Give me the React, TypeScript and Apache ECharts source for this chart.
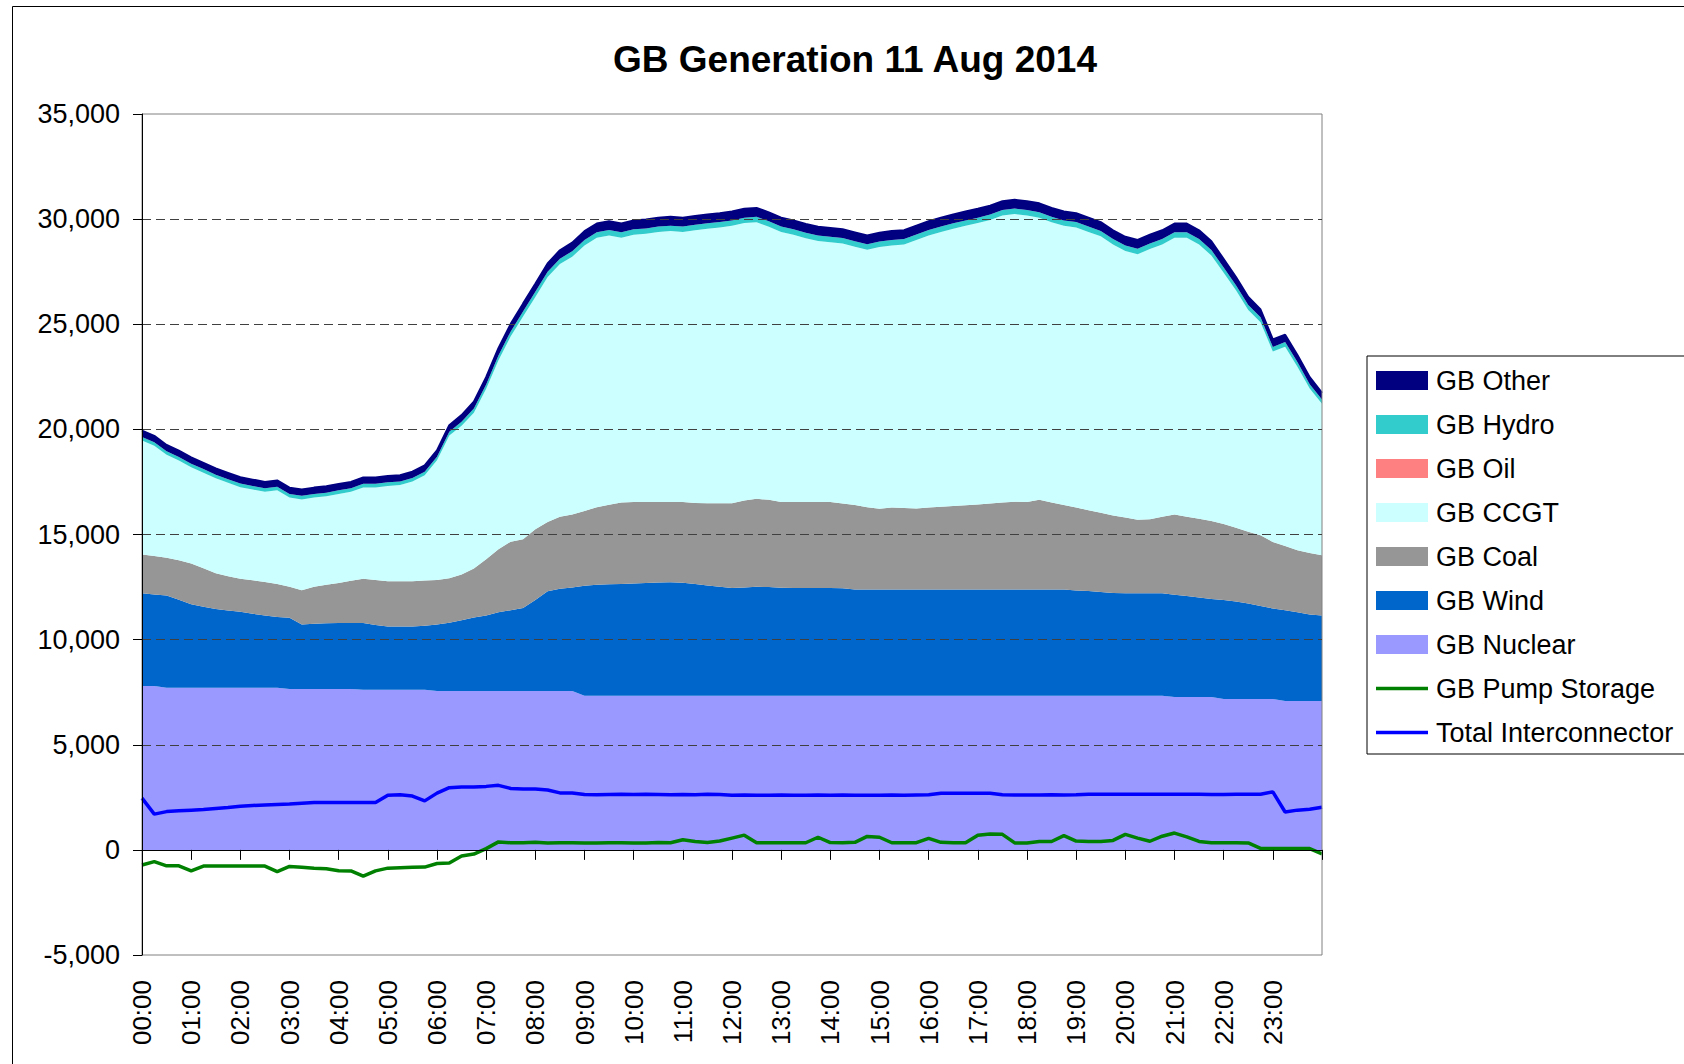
import React, { useEffect, useRef } from 'react';
import * as echarts from 'echarts';

// 15-minute grid from 00:00 to 24:00 (97 category positions)
const times: string[] = Array.from({ length: 97 }, (_, i) => {
  const h = Math.floor(i / 4);
  const m = (i % 4) * 15;
  return `${String(h).padStart(2, '0')}:${String(m).padStart(2, '0')}`;
});

const yTicks = { min: -5000, max: 35000, step: 5000 };

const nuclear = [
  7800, 7800, 7710, 7710, 7710, 7710, 7710, 7710, 7710, 7710, 7710, 7710,
  7650, 7650, 7650, 7650, 7650, 7650, 7610, 7610, 7610, 7610, 7610, 7610,
  7560, 7560, 7560, 7560, 7560, 7560, 7560, 7560, 7560, 7560, 7560, 7560,
  7330, 7330, 7330, 7330, 7330, 7330, 7330, 7330, 7330, 7330, 7330, 7330,
  7330, 7330, 7330, 7330, 7330, 7330, 7330, 7330, 7330, 7330, 7330, 7330,
  7330, 7330, 7330, 7330, 7330, 7330, 7330, 7330, 7330, 7330, 7330, 7330,
  7330, 7330, 7330, 7330, 7330, 7330, 7330, 7330, 7330, 7330, 7330, 7330,
  7270, 7270, 7270, 7270, 7180, 7180, 7180, 7180, 7180, 7080, 7080, 7080,
  7080,
];

const wind = [
  4400, 4350, 4390, 4190, 3970, 3850, 3750, 3680, 3610, 3520, 3440, 3370,
  3390, 3070, 3110, 3130, 3140, 3140, 3180, 3090, 3010, 3010, 3010, 3050,
  3160, 3240, 3360, 3490, 3590, 3740, 3840, 3940, 4320, 4740, 4860, 4920,
  5230, 5280, 5300, 5310, 5340, 5360, 5390, 5400, 5370, 5310, 5250, 5190,
  5130, 5150, 5180, 5170, 5140, 5130, 5130, 5130, 5130, 5110, 5050, 5050,
  5050, 5050, 5050, 5050, 5050, 5050, 5050, 5050, 5050, 5050, 5050, 5050,
  5050, 5050, 5050, 5050, 5010, 4980, 4930, 4890, 4880, 4870, 4870, 4870,
  4870, 4810, 4730, 4660, 4710, 4630, 4540, 4420, 4300, 4320, 4220, 4120,
  4070,
];

const coal = [
  1850, 1830, 1800, 1880, 1940, 1840, 1700, 1630, 1580, 1590, 1590, 1560,
  1480, 1630, 1760, 1830, 1900, 2010, 2110, 2140, 2160, 2160, 2160, 2150,
  2120, 2120, 2180, 2330, 2670, 3000, 3260, 3280, 3370, 3300, 3430, 3470,
  3560, 3690, 3790, 3880, 3880, 3860, 3830, 3820, 3850, 3860, 3910, 3970,
  4030, 4140, 4190, 4150, 4080, 4090, 4090, 4090, 4090, 4030, 4020, 3920,
  3850, 3900, 3880, 3860, 3910, 3940, 3970, 4010, 4050, 4100, 4140, 4180,
  4170, 4270, 4140, 4020, 3950, 3840, 3770, 3680, 3600, 3500, 3520, 3650,
  3810, 3770, 3750, 3710, 3610, 3510, 3410, 3360, 3160, 3050, 2950, 2920,
  2860,
];

const ccgt = [
  5420, 5240, 4890, 4740, 4580, 4540, 4510, 4440, 4350, 4320, 4290, 4460,
  4240, 4320, 4240, 4210, 4240, 4230, 4340, 4400, 4530, 4570, 4740, 5010,
  5690, 6790, 7070, 7410, 8110, 8990, 9770, 10590, 11050, 11650, 12010, 12260,
  12630, 12810, 12800, 12590, 12710, 12750, 12840, 12880, 12840, 12970, 13050, 13110,
  13190, 13190, 13150, 12990, 12840, 12710, 12540, 12410, 12350, 12370, 12290, 12240,
  12440, 12470, 12530, 12770, 12930, 13070, 13190, 13290, 13380, 13480, 13650, 13680,
  13620, 13420, 13330, 13280, 13310, 13240, 13150, 12890, 12670, 12630, 12860, 12940,
  13160, 13260, 13040, 12630, 11950, 11300, 10550, 10140, 9060, 9480, 8730, 7820,
  7210,
];

const oil = [
  0, 0, 0, 0, 0, 0, 0, 0, 0, 0, 0, 0,
  0, 0, 0, 0, 0, 0, 0, 0, 0, 0, 0, 0,
  0, 0, 0, 0, 0, 0, 0, 0, 0, 0, 0, 0,
  0, 0, 0, 0, 0, 0, 0, 0, 0, 0, 0, 0,
  0, 0, 0, 0, 0, 0, 0, 0, 0, 0, 0, 0,
  0, 0, 0, 0, 0, 0, 0, 0, 0, 0, 0, 0,
  0, 0, 0, 0, 0, 0, 0, 0, 0, 0, 0, 0,
  0, 0, 0, 0, 0, 0, 0, 0, 0, 0, 0, 0,
  0,
];

const hydro = [
  170, 170, 170, 170, 170, 170, 170, 170, 170, 170, 170, 170,
  170, 170, 170, 170, 170, 170, 170, 170, 170, 170, 170, 170,
  170, 180, 190, 200, 210, 220, 230, 240, 250, 250, 260, 260,
  260, 260, 260, 260, 260, 260, 260, 260, 260, 260, 260, 260,
  260, 260, 260, 260, 260, 260, 260, 260, 260, 260, 260, 260,
  260, 260, 260, 260, 260, 260, 260, 260, 260, 260, 260, 260,
  260, 260, 260, 260, 260, 260, 260, 260, 260, 260, 260, 260,
  260, 260, 260, 260, 250, 240, 240, 230, 220, 220, 220, 210,
  200,
];

const other = [
  300, 300, 300, 300, 300, 300, 300, 300, 300, 300, 300, 300,
  300, 300, 300, 300, 300, 300, 300, 300, 300, 300, 300, 300,
  300, 310, 320, 330, 340, 350, 360, 370, 380, 390, 400, 410,
  420, 420, 420, 420, 420, 420, 420, 420, 420, 420, 420, 420,
  420, 420, 420, 420, 420, 420, 420, 420, 420, 420, 420, 420,
  420, 420, 420, 420, 420, 420, 420, 420, 420, 420, 420, 420,
  420, 420, 420, 420, 420, 420, 420, 420, 420, 420, 420, 420,
  420, 420, 420, 420, 400, 390, 380, 370, 360, 350, 340, 330,
  320,
];

const pumpStorage = [
  -720, -560, -760, -760, -1000, -770, -770, -770, -770, -770, -770, -1030,
  -790, -830, -870, -900, -990, -1000, -1250, -1000, -870, -850, -830, -820,
  -650, -620, -290, -200, 60, 380, 340, 340, 360, 330, 340, 340,
  330, 330, 340, 340, 330, 330, 350, 340, 480, 400, 350, 420,
  560, 700, 340, 340, 340, 340, 340, 600, 350, 340, 360, 640,
  600, 340, 340, 340, 550, 360, 340, 340, 700, 760, 740, 330,
  330, 400, 400, 680, 420, 400, 400, 450, 740, 560, 410, 650,
  800, 620, 400, 340, 340, 340, 330, 70, 60, 60, 60, 60,
  -190,
];

const interconnector = [
  2460, 1700, 1820, 1860, 1890, 1920, 1970, 2020, 2080, 2110, 2140, 2160,
  2180, 2220, 2250, 2250, 2250, 2250, 2250, 2250, 2600, 2620, 2560, 2330,
  2700, 2960, 2990, 2990, 3020, 3070, 2920, 2900, 2900, 2850, 2710, 2710,
  2630, 2620, 2630, 2640, 2630, 2640, 2630, 2620, 2630, 2620, 2640, 2630,
  2600, 2610, 2600, 2600, 2610, 2600, 2600, 2610, 2600, 2610, 2600, 2600,
  2600, 2610, 2600, 2610, 2620, 2690, 2690, 2690, 2690, 2690, 2620, 2610,
  2610, 2610, 2620, 2610, 2620, 2640, 2650, 2650, 2650, 2650, 2640, 2650,
  2640, 2650, 2640, 2630, 2630, 2640, 2640, 2650, 2760, 1800, 1890, 1930,
  2030,
];

const FONT = '"Liberation Sans", Arial, sans-serif';

const areaDefs = [
  { name: 'GB Nuclear', data: nuclear, color: '#9999FF', edge: 0 },
  { name: 'GB Wind', data: wind, color: '#0066CC', edge: 0 },
  { name: 'GB Coal', data: coal, color: '#969696', edge: 0 },
  { name: 'GB CCGT', data: ccgt, color: '#CCFFFF', edge: 0 },
  { name: 'GB Oil', data: oil, color: '#FF8080', edge: 0 },
  { name: 'GB Hydro', data: hydro, color: '#33CCCC', edge: 0 },
  { name: 'GB Other', data: other, color: '#000080', edge: 2 },
];

const lineDefs = [
  { name: 'GB Pump Storage', data: pumpStorage, color: '#008000' },
  { name: 'Total Interconnector', data: interconnector, color: '#0000FF' },
];

const legendOrder = [
  'GB Other', 'GB Hydro', 'GB Oil', 'GB CCGT', 'GB Coal', 'GB Wind', 'GB Nuclear',
  'GB Pump Storage', 'Total Interconnector',
];

function buildOption(): any {
  const series: any[] = [];
  areaDefs.forEach((d) => {
    series.push({
      name: d.name,
      type: 'line',
      stack: 'gen',
      data: d.data,
      symbol: 'none',
      showSymbol: false,
      lineStyle: { width: d.edge, color: d.color },
      itemStyle: { color: d.color },
      areaStyle: { color: d.color, opacity: 1 },
      emphasis: { disabled: true },
      silent: true,
    });
  });
  lineDefs.forEach((d) => {
    series.push({
      name: d.name,
      type: 'line',
      data: d.data,
      symbol: 'none',
      showSymbol: false,
      lineStyle: { width: 3.5, color: d.color },
      itemStyle: { color: d.color },
      emphasis: { disabled: true },
      silent: true,
    });
  });

  const areaNames = new Set(areaDefs.map((d) => d.name));

  return {
    animation: false,
    backgroundColor: '#ffffff',
    textStyle: { fontFamily: FONT },
    grid: { left: 142, top: 114, width: 1180, height: 841, containLabel: false },
    xAxis: [
      {
        type: 'category',
        data: times,
        boundaryGap: false,
        position: 'bottom',
        z: 60,
        axisLine: { show: true, onZero: true, lineStyle: { color: '#000', width: 1 } },
        axisTick: { show: true, interval: 3, length: 10, inside: false, lineStyle: { color: '#000', width: 1 } },
        axisLabel: { show: false },
        splitLine: { show: false },
      },
      {
        type: 'category',
        data: times,
        boundaryGap: false,
        position: 'bottom',
        axisLine: { show: false, onZero: false },
        axisTick: { show: false },
        axisLabel: {
          show: true,
          interval: 3,
          rotate: 90,
          margin: 25,
          fontSize: 26,
          fontFamily: FONT,
          color: '#000',
          formatter: (v: string) => (v === '24:00' ? '' : v),
        },
        splitLine: { show: false },
      },
    ],
    yAxis: {
      type: 'value',
      min: yTicks.min,
      max: yTicks.max,
      interval: yTicks.step,
      z: 60,
      axisLine: { show: true, lineStyle: { color: '#000', width: 1 } },
      axisTick: { show: true, length: 9, inside: false, lineStyle: { color: '#000', width: 1 } },
      axisLabel: {
        margin: 22,
        fontSize: 27,
        fontFamily: FONT,
        color: '#000',
        formatter: (v: number) => v.toLocaleString('en-US'),
      },
      splitLine: {
        show: true,
        showMinLine: false,
        showMaxLine: false,
        lineStyle: { color: '#404040', width: 1, type: [9, 5] },
      },
    },
    legend: {
      show: true,
      orient: 'vertical',
      left: 1367,
      top: 356,
      padding: [11, 420, 8, 9],
      itemWidth: 52,
      itemHeight: 19,
      itemGap: 17,
      borderColor: '#000',
      borderWidth: 1,
      backgroundColor: '#fff',
      selectedMode: false,
      symbolKeepAspect: true,
      textStyle: { fontSize: 27, lineHeight: 27, fontFamily: FONT, color: '#000', padding: [0, 0, 0, 3] },
      data: legendOrder.map((n) =>
        areaNames.has(n)
          ? { name: n, icon: 'rect' }
          : { name: n, icon: 'path://M0,0L52,0L52,3.5L0,3.5Z' }
      ),
    },
    graphic: [
      {
        type: 'rect',
        z: 50,
        silent: true,
        shape: { x: 142, y: 114, width: 1180, height: 841 },
        style: { fill: 'none', stroke: '#808080', lineWidth: 1 },
      },
      {
        type: 'rect',
        z: 50,
        silent: true,
        shape: { x: 12.5, y: 6.5, width: 1700, height: 1100 },
        style: { fill: 'none', stroke: '#000', lineWidth: 1 },
      },
      {
        type: 'text',
        z: 50,
        x: 855,
        y: 59,
        silent: true,
        style: {
          text: 'GB Generation 11 Aug 2014',
          font: `bold 37px ${FONT}`,
          fill: '#000',
          align: 'center',
          verticalAlign: 'middle',
        },
      },
    ],
    series,
  };
}

export default function App() {
  const ref = useRef<HTMLDivElement>(null);
  useEffect(() => {
    document.body.style.margin = '0';
    const chart = echarts.init(ref.current!, null, { renderer: 'svg' });
    chart.setOption(buildOption());
    return () => chart.dispose();
  }, []);
  return (
    <div
      ref={ref}
      style={{ position: 'absolute', left: 0, top: 0, width: 1684, height: 1064, background: '#fff' }}
    />
  );
}
